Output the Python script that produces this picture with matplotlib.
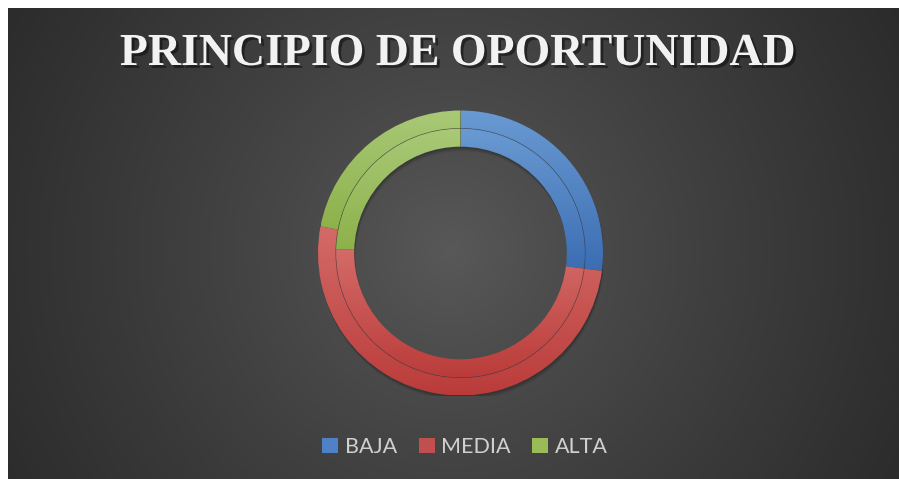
import numpy as np
import matplotlib
matplotlib.use("Agg")
import matplotlib.pyplot as plt
import matplotlib.patheffects as pe
from matplotlib.patches import Wedge, Circle, Patch
from matplotlib.colors import to_rgb

# -------------------- data --------------------
categories = ["BAJA", "MEDIA", "ALTA"]
outer_values = [27, 51, 22]      # outer ring (%)
inner_values = [27, 48.5, 24.5]  # inner ring (%)
title = "PRINCIPIO DE OPORTUNIDAD"

# (top colour, bottom colour) for the wedge gradients
colors_top = ["#6a9ad2", "#d46b68", "#a9c977"]
colors_bot = ["#3b6db3", "#ba3c3a", "#8db14a"]
legend_colors = ["#4f81c7", "#c0504d", "#9bbb59"]

W, H = 899, 479
fig = plt.figure(figsize=(W / 100, H / 100), dpi=100)
fig.patch.set_facecolor("white")

# -------------------- background (radial gradient) --------------------
bx0, by0 = 8, 8
bw, bh = W - bx0, H - by0
bg = fig.add_axes([bx0 / W, 0, bw / W, bh / H])
yy, xx = np.mgrid[0:bh, 0:bw]
d = np.hypot(xx - (450 - bx0), yy - (250 - by0)) / 515.0
v = (89 - 46 * np.clip(d, 0, 1.2) ** 0.85) / 255.0
bg.imshow(np.dstack([v, v, v]), aspect="auto", extent=(0, 1, 0, 1), origin="upper")
bg.set_axis_off()

# -------------------- doughnut --------------------
cx, cy, R = 460.5, H - 253, 142.5
ax = fig.add_axes([(cx - R) / W, (cy - R) / H, 2 * R / W, 2 * R / H])
ax.set_xlim(-1, 1)
ax.set_ylim(-1, 1)
ax.set_axis_off()
ax.patch.set_alpha(0)

rings = [(1.0, 0.125, outer_values), (0.875, 0.129, inner_values)]


def gradient_wedge(ax, r, width, t1, t2, ctop, cbot):
    w = Wedge((0, 0), r, t1, t2, width=width, facecolor="none", edgecolor="none")
    ax.add_patch(w)
    # bounding box of the wedge
    ang = np.radians(np.linspace(t1, t2, 200))
    ys = np.concatenate([r * np.sin(ang), (r - width) * np.sin(ang)])
    xs = np.concatenate([r * np.cos(ang), (r - width) * np.cos(ang)])
    g = np.linspace(0, 1, 256)[:, None, None]
    img = np.array(to_rgb(ctop))[None, None, :] * (1 - g) + np.array(to_rgb(cbot))[None, None, :] * g
    im = ax.imshow(img, extent=(xs.min(), xs.max(), ys.min(), ys.max()), origin="upper",
                   aspect="auto", zorder=3)
    im.set_clip_path(w)


# soft drop shadow
for off, a in [(0.012, 0.10), (0.022, 0.10), (0.032, 0.07)]:
    ax.add_patch(Wedge((off * 0.3, -off), 1.0, 0, 360, width=0.254,
                       facecolor="black", edgecolor="none", alpha=a, zorder=1))

for r, width, vals in rings:
    total = float(sum(vals))
    start = 90.0
    for val, ct, cb in zip(vals, colors_top, colors_bot):
        sweep = 360.0 * val / total
        gradient_wedge(ax, r, width, start - sweep, start, ct, cb)
        start -= sweep

ax.add_patch(Circle((0, 0), 0.875, facecolor="none", edgecolor="#3c3c3c",
                    linewidth=0.5, alpha=0.6, zorder=4))

# -------------------- title --------------------
fig.text(458 / W, 1 - 54 / H, title, ha="center", va="center",
         family="Liberation Serif", weight="bold", fontsize=33, color="#f2f2f2",
         path_effects=[pe.withSimplePatchShadow(offset=(2, -2), shadow_rgbFace="black", alpha=0.45)])

# -------------------- legend --------------------
handles = [Patch(facecolor=c, edgecolor="none") for c in legend_colors]
leg = fig.legend(handles, categories, loc="center", bbox_to_anchor=(465 / W, 1 - 447 / H),
                 ncol=3, frameon=False, handlelength=0.75, handleheight=0.75,
                 handletextpad=0.3, columnspacing=1.0,
                 prop={"family": "Lato", "size": 15.5})
for t in leg.get_texts():
    t.set_color("#d0d0d0")

fig.savefig("out.png", dpi=100, facecolor=fig.get_facecolor())
